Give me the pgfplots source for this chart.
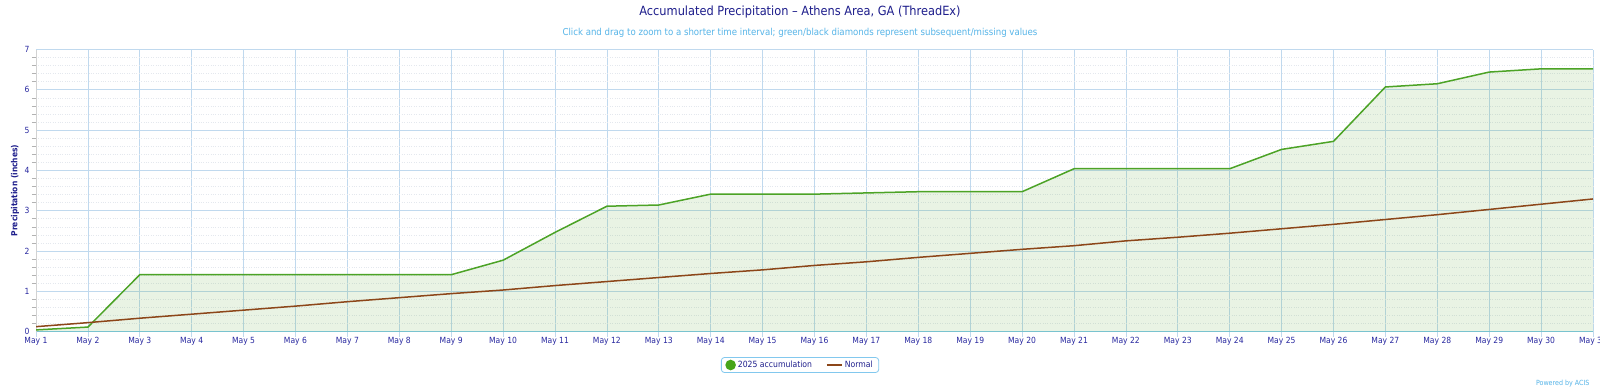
\documentclass[border=0pt]{standalone}
\usepackage{fontspec}
\setmainfont{DejaVu Sans Condensed}
\usepackage{pgfplots}
\pgfplotsset{compat=1.18}
\definecolor{titlenavy}{RGB}{30,30,140}
\definecolor{ticknavy}{RGB}{40,40,160}
\definecolor{subblue}{RGB}{85,180,232}
\definecolor{accgreen}{RGB}{76,163,38}
\definecolor{dotgreen}{RGB}{70,165,25}
\definecolor{normbrown}{RGB}{140,70,25}
\definecolor{gridblue}{RGB}{192,217,238}
\definecolor{gridgrey}{RGB}{228,232,238}
\definecolor{axiscyan}{RGB}{125,198,222}
\definecolor{legendblue}{RGB}{130,200,238}
\begin{document}
\begin{tikzpicture}[x=1bp,y=1bp]
\useasboundingbox (0,0) rectangle (1600,390);
\fill[white] (0,0) rectangle (1600,390);
\begin{axis}[
  at={(36bp,58.5bp)}, anchor=south west,
  scale only axis, width=1557bp, height=282bp,
  xmin=1, xmax=31, ymin=0, ymax=7,
  xtick={1,...,31},
  xticklabels={May 1,May 2,May 3,May 4,May 5,May 6,May 7,May 8,May 9,May 10,May 11,May 12,May 13,May 14,May 15,May 16,May 17,May 18,May 19,May 20,May 21,May 22,May 23,May 24,May 25,May 26,May 27,May 28,May 29,May 30,May 31},
  ytick={0,...,7},
  /pgf/number format/assume math mode=true,
  minor y tick num=4,
  xmajorgrids, ymajorgrids, yminorgrids,
  major grid style={draw=gridblue, line width=0.7bp},
  minor grid style={draw=gridgrey, dotted, line width=0.5bp},
  axis x line=bottom, axis y line=left,
  x axis line style={-, draw=axiscyan, line width=1bp},
  y axis line style={-, draw=gray!35, line width=0.6bp},
  tick align=outside,
  major tick length=5bp, minor tick length=4bp,
  x tick style={draw=gridblue, line width=0.7bp},
  ytick style={draw=none},
  minor y tick style={draw=gray!60, line width=0.5bp},
  xticklabel style={font=\fontsize{8.5}{10}\selectfont, text=ticknavy, anchor=north, yshift=3bp},
  yticklabel style={font=\fontsize{8.5}{10}\selectfont, text=ticknavy, anchor=east, xshift=2bp},
  legend style={at={(0.4907,-0.1188)}, anchor=center, draw=legendblue, rounded corners=3bp,
    line width=0.8bp, fill=white, font=\fontsize{8.6}{10}\selectfont, text=titlenavy,
    inner xsep=4bp, inner ysep=1.5bp, /tikz/every even column/.append style={column sep=12bp}},
  legend columns=2,
  legend cell align=left,
]
\addplot[fill=accgreen, fill opacity=0.12, draw=none, forget plot] coordinates {
(1,0.04) (2,0.11) (3,1.41) (4,1.41) (5,1.41) (6,1.41) (7,1.41) (8,1.41) (9,1.41) (10,1.77)
(11,2.46) (12,3.11) (13,3.14) (14,3.41) (15,3.41) (16,3.41) (17,3.44) (18,3.47) (19,3.47) (20,3.47)
(21,4.04) (22,4.04) (23,4.04) (24,4.04) (25,4.52) (26,4.72) (27,6.07) (28,6.15) (29,6.44) (30,6.52) (31,6.52)
} \closedcycle;
\addplot[accgreen, line width=1.5bp,
  legend image code/.code={\fill[dotgreen] (4bp,0bp) circle (4.5bp);}] coordinates {
(1,0.04) (2,0.11) (3,1.41) (4,1.41) (5,1.41) (6,1.41) (7,1.41) (8,1.41) (9,1.41) (10,1.77)
(11,2.46) (12,3.11) (13,3.14) (14,3.41) (15,3.41) (16,3.41) (17,3.44) (18,3.47) (19,3.47) (20,3.47)
(21,4.04) (22,4.04) (23,4.04) (24,4.04) (25,4.52) (26,4.72) (27,6.07) (28,6.15) (29,6.44) (30,6.52) (31,6.52)
};
\addlegendentry{2025 accumulation}
\addplot[normbrown, line width=1.5bp,
  legend image code/.code={\draw[normbrown, line width=1.8bp] (0bp,0bp) -- (15bp,0bp);}] coordinates {
(1,0.12) (2,0.22) (3,0.33) (4,0.43) (5,0.53) (6,0.63) (7,0.74) (8,0.84) (9,0.94) (10,1.03)
(11,1.14) (12,1.24) (13,1.34) (14,1.44) (15,1.53) (16,1.64) (17,1.73) (18,1.84) (19,1.94) (20,2.04)
(21,2.13) (22,2.25) (23,2.34) (24,2.44) (25,2.55) (26,2.66) (27,2.78) (28,2.90) (29,3.03) (30,3.16) (31,3.29)
};
\addlegendentry{Normal}
\end{axis}
\node[font=\fontsize{12.7}{15}\selectfont, text=titlenavy] at (800,377.5) {Accumulated Precipitation – Athens Area, GA (ThreadEx)};
\node[font=\fontsize{9.6}{11}\selectfont, text=subblue] at (800,357.5) {Click and drag to zoom to a shorter time interval; green/black diamonds represent subsequent/missing values};
\node[rotate=90, font=\bfseries\fontsize{8.4}{10}\selectfont, text=titlenavy] at (15,199.5) {Precipitation (inches)};
\node[anchor=east, font=\fontsize{7.1}{8}\selectfont, text=subblue] at (1593,6) {Powered by ACIS};
\end{tikzpicture}
\end{document}
